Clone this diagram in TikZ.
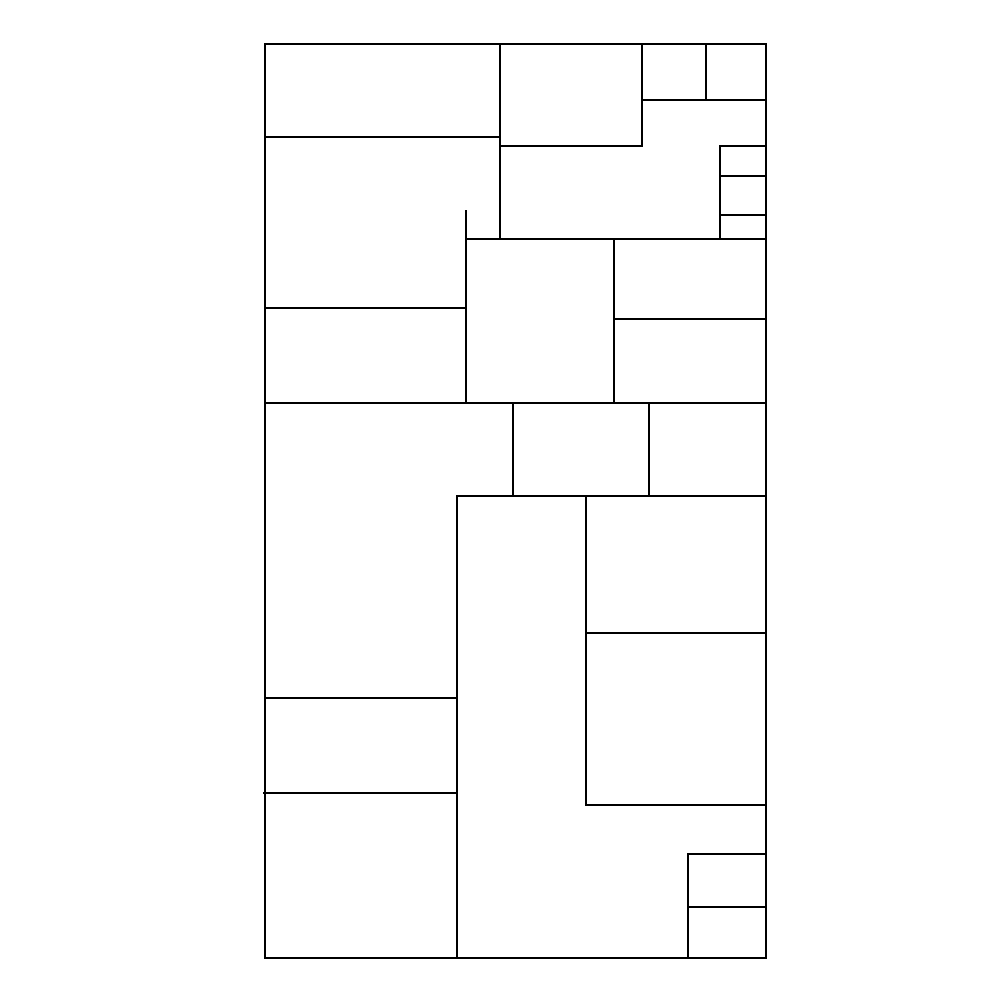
\documentclass[tikz,border=0pt]{standalone}
\begin{document}
\begin{tikzpicture}[x=0.02cm,y=-0.02cm]
    \tikzset{wall/.style={draw,line width=0.6pt,line cap=rect}}
    \useasboundingbox (0,0) rectangle (1000,1000);
    % outer border
    \draw[wall] (265,44) rectangle (766,958);
    % top rooms
    \draw[wall] (265,137) -- (500,137);
    \draw[wall] (500,44) -- (500,239);
    \draw[wall] (500,146) -- (642,146) -- (642,44);
    \draw[wall] (642,100) -- (766,100);
    \draw[wall] (706,44) -- (706,100);
    \draw[wall] (766,146) -- (720,146) -- (720,239);
    \draw[wall] (720,176) -- (766,176);
    \draw[wall] (720,215) -- (766,215);
    % middle rooms
    \draw[wall] (466,211) -- (466,403);
    \draw[wall] (466,239) -- (766,239);
    \draw[wall] (265,308) -- (466,308);
    \draw[wall] (614,239) -- (614,403);
    \draw[wall] (614,319) -- (766,319);
    \draw[wall] (265,403) -- (766,403);
    \draw[wall] (513,403) -- (513,496);
    \draw[wall] (649,403) -- (649,496);
    % bottom rooms
    \draw[wall] (457,958) -- (457,496) -- (766,496);
    \draw[wall] (586,496) -- (586,805) -- (766,805);
    \draw[wall] (586,633) -- (766,633);
    \draw[wall] (265,698) -- (457,698);
    \draw[wall] (264,793) -- (457,793);
    \draw[wall] (688,958) -- (688,854) -- (766,854);
    \draw[wall] (688,907) -- (766,907);
\end{tikzpicture}
\end{document}
